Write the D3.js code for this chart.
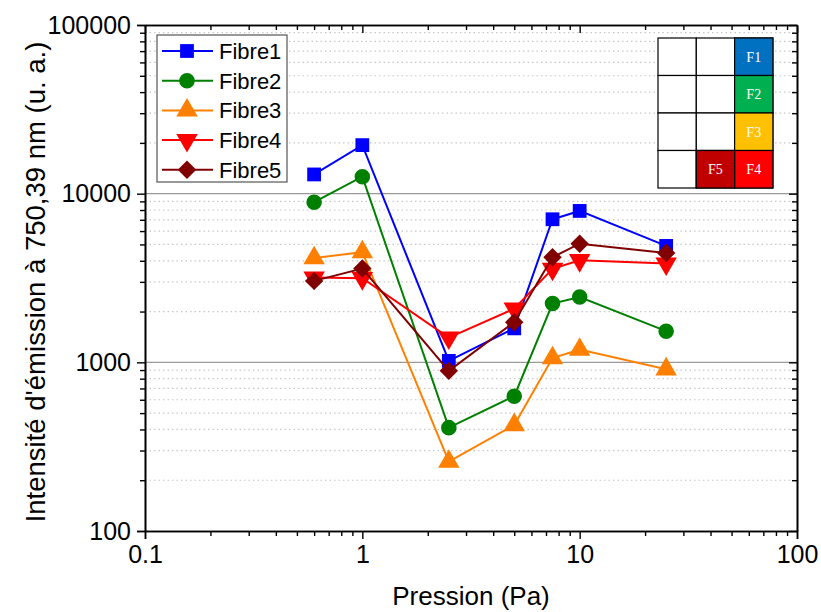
<!DOCTYPE html>
<html>
<head>
<meta charset="utf-8">
<script src="https://cdn.jsdelivr.net/npm/d3@7"></script>
<style>
  body { margin: 0; background: #fff; }
  svg { display: block; }
  text { font-family: "Liberation Sans", Arial, sans-serif; }
</style>
</head>
<body>
<svg id="chart" width="821" height="612"></svg>
<script>
// ---- data ----
const pressures = [0.6, 1, 2.5, 5, 7.5, 10, 25];
const seriesNames = ["Fibre1", "Fibre2", "Fibre3", "Fibre4", "Fibre5"];
const fibre1 = [13000, 19400, 1020, 1590, 7050, 7900, 4900];
const fibre2 = [8900, 12600, 410, 630, 2230, 2440, 1530];
const fibre3 = [4150, 4500, 258, 425, 1060, 1190, 910];
const fibre4 = [3180, 3150, 1400, 2080, 3580, 4030, 3850];
const fibre5 = [3040, 3600, 890, 1730, 4200, 5050, 4450];
const xTickLabels = [0.1, 1, 10, 100];
const yTickLabels = [100, 1000, 10000, 100000];
const insetLabels = ["F1", "F2", "F3", "F4", "F5"];

const seriesValues = [fibre1, fibre2, fibre3, fibre4, fibre5];
const colors = ["#0000ff", "#008000", "#ff8000", "#ff0000", "#800000"];
const insetColors = ["#0070c0", "#00b050", "#ffc000", "#ff0000", "#c00000"];

// ---- layout ----
const svg = d3.select("#chart");
const L = 145, R = 797, T = 25, B = 531;
const x = d3.scaleLog().domain([0.1, 100]).range([L, R]);
const y = d3.scaleLog().domain([100, 100000]).range([B, T]);

function minorsOf(domain) {
  const out = [];
  for (let e = Math.log10(domain[0]); e < Math.log10(domain[1]); e++) {
    for (let k = 2; k <= 9; k++) out.push(+(k * Math.pow(10, e)).toPrecision(6));
  }
  return out;
}
const yMinor = minorsOf([100, 100000]);
const xMinor = minorsOf([0.1, 100]);

// grid
const grid = svg.append("g");
grid.selectAll("line.minor").data(yMinor).enter().append("line")
  .attr("x1", L).attr("x2", R).attr("y1", d => y(d)).attr("y2", d => y(d))
  .attr("stroke", "#c8c8c8").attr("stroke-width", 1.2).attr("stroke-dasharray", "1.5,3");
grid.selectAll("line.major").data(yTickLabels.slice(1, -1)).enter().append("line")
  .attr("x1", L).attr("x2", R).attr("y1", d => y(d)).attr("y2", d => y(d))
  .attr("stroke", "#9a9a9a").attr("stroke-width", 1.2);

// axes
const fmt = d => String(d);
function styleAxis(g) {
  g.selectAll("path.domain").attr("stroke", "#000").attr("stroke-width", 1.6);
  g.selectAll(".tick line").attr("stroke", "#000").attr("stroke-width", 1.4);
}
const xAxis = svg.append("g").attr("transform", `translate(0,${B})`)
  .call(d3.axisBottom(x).tickValues(xTickLabels).tickFormat(fmt).tickSize(8).tickPadding(6));
xAxis.selectAll("text").attr("font-size", 25).attr("fill", "#000");
styleAxis(xAxis);
const xAxisMinor = svg.append("g").attr("transform", `translate(0,${B})`)
  .call(d3.axisBottom(x).tickValues(xMinor).tickFormat("").tickSize(5).tickSizeOuter(0));
styleAxis(xAxisMinor);

const yAxis = svg.append("g").attr("transform", `translate(${L},0)`)
  .call(d3.axisLeft(y).tickValues(yTickLabels).tickFormat(fmt).tickSize(8).tickPadding(6));
yAxis.selectAll("text").attr("font-size", 25).attr("fill", "#000");
styleAxis(yAxis);
const yAxisMinor = svg.append("g").attr("transform", `translate(${L},0)`)
  .call(d3.axisLeft(y).tickValues(yMinor).tickFormat("").tickSize(5).tickSizeOuter(0));
styleAxis(yAxisMinor);

// mirror axes (top, right) with inward ticks
const xTop = svg.append("g").attr("transform", `translate(0,${T})`)
  .call(d3.axisTop(x).tickValues(xTickLabels).tickFormat("").tickSize(-8).tickSizeOuter(0));
styleAxis(xTop);
const xTopMinor = svg.append("g").attr("transform", `translate(0,${T})`)
  .call(d3.axisTop(x).tickValues(xMinor).tickFormat("").tickSize(-5).tickSizeOuter(0));
styleAxis(xTopMinor);
const yRight = svg.append("g").attr("transform", `translate(${R},0)`)
  .call(d3.axisRight(y).tickValues(yTickLabels).tickFormat("").tickSize(-8).tickSizeOuter(0));
styleAxis(yRight);
const yRightMinor = svg.append("g").attr("transform", `translate(${R},0)`)
  .call(d3.axisRight(y).tickValues(yMinor).tickFormat("").tickSize(-5).tickSizeOuter(0));
styleAxis(yRightMinor);

// axis titles
svg.append("text").attr("x", (L + R) / 2).attr("y", 605).attr("text-anchor", "middle")
  .attr("font-size", 26).attr("fill", "#000").text("Pression (Pa)");
svg.append("text").attr("transform", `translate(45,282) rotate(-90)`)
  .attr("text-anchor", "middle").attr("font-size", 27.5).attr("fill", "#000")
  .text("Intensité d'émission à 750,39 nm (u. a.)");

// symbols
const symSize = 190;
const symbols = [
  { type: d3.symbolSquare, size: symSize, rot: 0 },
  { type: d3.symbolCircle, size: symSize, rot: 0 },
  { type: d3.symbolTriangle, size: 200, rot: 0 },
  { type: d3.symbolTriangle, size: 200, rot: 180 },
  { type: d3.symbolSquare, size: 170, rot: 45 }
];

const line = d3.line().x(d => x(d[0])).y(d => y(d[1]));
seriesValues.forEach((vals, i) => {
  const pts = pressures.map((p, j) => [p, vals[j]]);
  const g = svg.append("g");
  g.append("path").datum(pts).attr("d", line).attr("fill", "none")
    .attr("stroke", colors[i]).attr("stroke-width", 2);
  g.selectAll("path.m").data(pts).enter().append("path")
    .attr("transform", d => `translate(${x(d[0])},${y(d[1])}) rotate(${symbols[i].rot})`)
    .attr("d", d3.symbol().type(symbols[i].type).size(symbols[i].size))
    .attr("fill", colors[i]);
});

// legend
const lg = svg.append("g");
lg.append("rect").attr("x", 157).attr("y", 35).attr("width", 130).attr("height", 147)
  .attr("fill", "#fff").attr("stroke", "#555").attr("stroke-width", 1.2);
seriesNames.forEach((name, i) => {
  const cy = 51 + i * 29.7;
  lg.append("line").attr("x1", 162).attr("x2", 213).attr("y1", cy).attr("y2", cy)
    .attr("stroke", colors[i]).attr("stroke-width", 2);
  lg.append("path")
    .attr("transform", `translate(187,${cy}) rotate(${symbols[i].rot})`)
    .attr("d", d3.symbol().type(symbols[i].type).size(symbols[i].size))
    .attr("fill", colors[i]);
  lg.append("text").attr("x", 219).attr("y", cy + 8).attr("font-size", 22).attr("fill", "#000").text(name);
});

// inset fibre map
const ig = svg.append("g");
const gx = 658, gy = 38, cw = 38.3, ch = 37.5;
const insetCells = [[0, 2], [1, 2], [2, 2], [3, 2], [3, 1]]; // [row, col]
for (let r = 0; r < 4; r++) for (let c = 0; c < 3; c++) {
  ig.append("rect").attr("x", gx + c * cw).attr("y", gy + r * ch).attr("width", cw).attr("height", ch)
    .attr("fill", "#fff").attr("stroke", "#000").attr("stroke-width", 1.2);
}
insetCells.forEach((rc, i) => {
  ig.append("rect").attr("x", gx + rc[1] * cw).attr("y", gy + rc[0] * ch).attr("width", cw).attr("height", ch)
    .attr("fill", insetColors[i]).attr("stroke", "#000").attr("stroke-width", 1.2);
  ig.append("text").attr("x", gx + rc[1] * cw + cw / 2).attr("y", gy + rc[0] * ch + ch / 2 + 5)
    .attr("text-anchor", "middle").attr("font-size", 14).attr("fill", "#fff")
    .style("font-family", "'Liberation Serif', 'Times New Roman', serif").text(insetLabels[i]);
});
</script>
</body>
</html>
